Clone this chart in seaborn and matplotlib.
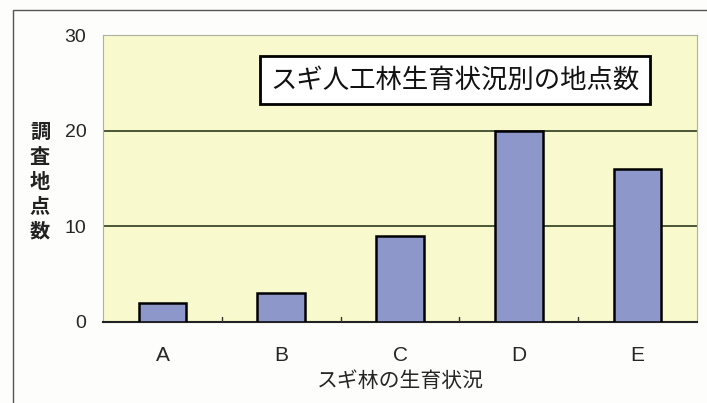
import matplotlib
matplotlib.use("Agg")
import matplotlib.pyplot as plt
import seaborn as sns
import pandas as pd
from matplotlib.patches import Rectangle

categories = ["A", "B", "C", "D", "E"]
counts = [2, 3, 9, 20, 16]
yticks = [0, 10, 20, 30]
title = "スギ人工林生育状況別の地点数"
xlabel = "スギ林の生育状況"
ylabel = "調\n査\n地\n点\n数"

sns.set_theme(style="white")
plt.rcParams['font.family'] = ['Liberation Sans', 'Noto Sans CJK JP', 'DejaVu Sans']

df = pd.DataFrame({"cat": categories, "n": counts})

fig = plt.figure(figsize=(7.07, 4.03), dpi=100)
fig.patch.set_facecolor("#fdfdfb")
ax = fig.add_axes([103/707, 1-322/403, (697-103)/707, (322-35)/403])
ax.set_facecolor("#f8f9cc")

sns.barplot(data=df, x="cat", y="n", ax=ax, color="#8e97c9", saturation=1,
            width=0.4, edgecolor="black", linewidth=1.8, zorder=3)

ax.set_ylim(0, 30)
ax.set_yticks(yticks)
ax.set_yticklabels([str(t) for t in yticks], fontsize=14, family=['Liberation Sans'])
ax.tick_params(axis='y', length=0, pad=12)
ax.tick_params(axis='x', length=0, pad=17, labelsize=15)
for t in ax.get_xticklabels():
    t.set_family(['Liberation Sans'])
ax.set_xlim(-0.5, 4.5)
for xb in [0.5, 1.5, 2.5, 3.5]:
    ax.plot([xb, xb], [0, 0.5], color="#333333", lw=1, zorder=4)

for g in [10, 20]:
    ax.axhline(g, color="#1e2a10", lw=1.1, zorder=2)

for s in ["top", "right", "left"]:
    ax.spines[s].set_color("#b0b0a0")
    ax.spines[s].set_linewidth(0.8)
ax.spines["bottom"].set_color("#222222")
ax.spines["bottom"].set_linewidth(1.5)

ax.set_xlabel(xlabel, fontsize=15, family=['Noto Sans CJK JP'], labelpad=4)
ax.set_ylabel("")
fig.text(40/707, 1-181/403, ylabel, fontsize=14.5, family=['Noto Sans CJK JP'],
         ha="center", va="center", linespacing=1.22, fontweight="bold", color="#222222")

ax.text((455-103)/594, 0.843, title, transform=ax.transAxes, fontsize=19,
        family=['Noto Sans CJK JP'], ha="center", va="center", zorder=5, color="#111111",
        bbox=dict(boxstyle="square,pad=0.4", facecolor="white", edgecolor="black", linewidth=2))

fig.patches.append(Rectangle((13/707, -0.05), 1.2, 1-10/403+0.05, transform=fig.transFigure,
                             fill=False, edgecolor="#555555", linewidth=1.0))

fig.savefig("out.png", dpi=100)
